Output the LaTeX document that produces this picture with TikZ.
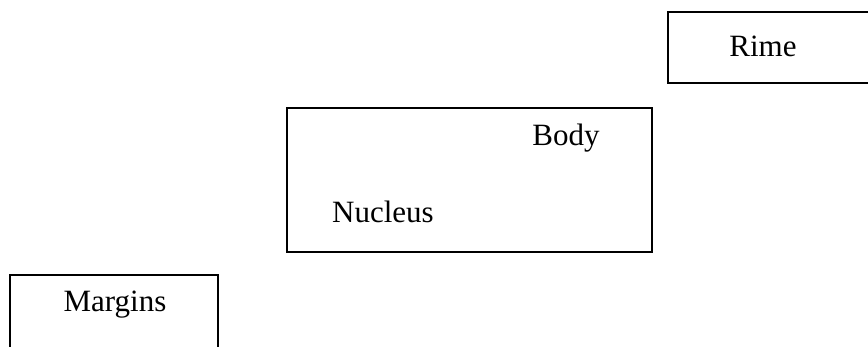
\documentclass[tikz,border=0pt]{standalone}
\usepackage{fontspec}
\setmainfont{Liberation Serif}
\begin{document}
\begin{tikzpicture}[x=1pt,y=-1pt,
  frame/.style={draw=black,line width=1.8pt,rectangle,inner sep=0pt},
  label/.style={font=\fontsize{31}{37}\selectfont,inner sep=0pt}]
\useasboundingbox (0,0) rectangle (868,346);
\clip (0,0) rectangle (868,346);
% boxes (the outer ones run past the edge of the page)
\draw[frame] (668,12) rectangle (890,83);
\draw[frame] (287,108) rectangle (652,252);
\draw[frame] (10,275) rectangle (218,370);
% labels
\node[label] (rimelbl) at (763,46) {Rime};
\node[label] (body) at (566,138) {Body};
\node[label] (nucleus) at (383,212) {Nucleus};
\node[label] (margins) at (115,305) {Margins};
\end{tikzpicture}
\end{document}
